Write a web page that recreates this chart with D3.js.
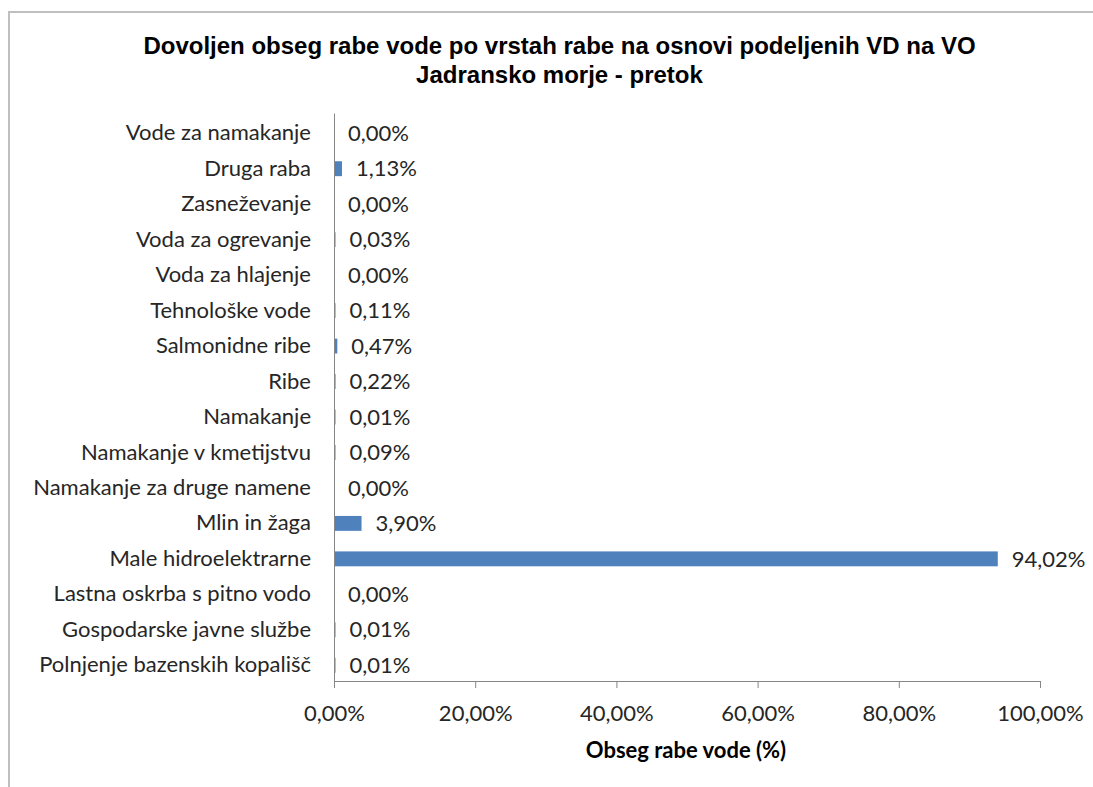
<!DOCTYPE html>
<html><head><meta charset="utf-8">
<script src="https://cdn.jsdelivr.net/npm/d3@7"></script>
<style>
html,body{margin:0;padding:0;background:#fff;}
svg{display:block;}
</style></head>
<body>
<svg id="chart" width="1093" height="787"></svg>
<script>
const categories = [
  "Vode za namakanje",
  "Druga raba",
  "Zasneževanje",
  "Voda za ogrevanje",
  "Voda za hlajenje",
  "Tehnološke vode",
  "Salmonidne ribe",
  "Ribe",
  "Namakanje",
  "Namakanje v kmetijstvu",
  "Namakanje za druge namene",
  "Mlin in žaga",
  "Male hidroelektrarne",
  "Lastna oskrba s pitno vodo",
  "Gospodarske javne službe",
  "Polnjenje bazenskih kopališč"
];
const values = [0.00, 1.13, 0.00, 0.03, 0.00, 0.11, 0.47, 0.22, 0.01, 0.09, 0.00, 3.90, 94.02, 0.00, 0.01, 0.01];
const xTicks = [0, 20, 40, 60, 80, 100];
const titleLines = ["Dovoljen obseg rabe vode po vrstah rabe na osnovi podeljenih VD na VO", "Jadransko morje - pretok"];
const axisTitle = "Obseg rabe vode (%)";

const fmt = v => v.toFixed(2).replace(".", ",") + "%";

const svg = d3.select("#chart");
const pLeft = 334, pRight = 1040, pTop = 113.5, pBottom = 681;
const FONT = "Lato, sans-serif";
const FS = 22;

// outer border
svg.append("rect").attr("x", 9).attr("y", 12).attr("width", 1100).attr("height", 800)
  .attr("fill", "none").attr("stroke", "#bfbfbf").attr("stroke-width", 2);

const x = d3.scaleLinear().domain([0, 100]).range([pLeft, pRight]);
const y = d3.scaleBand().domain(categories).range([pTop + 2, pBottom + 2]).paddingInner(0.58).paddingOuter(0.29);

// title
svg.append("g").selectAll("text").data(titleLines).join("text")
  .attr("x", 559.5).attr("y", (d, i) => 54 + i * 29)
  .attr("text-anchor", "middle")
  .attr("font-family", "Liberation Sans, Arial, sans-serif")
  .attr("font-weight", "bold").attr("font-size", 24).attr("fill", "#000")
  .text(d => d);

// bars
svg.append("g").selectAll("rect").data(values).join("rect")
  .attr("x", x(0))
  .attr("y", (d, i) => y(categories[i]))
  .attr("height", y.bandwidth())
  .attr("width", d => d > 0 ? Math.max(x(d) - x(0), 1.5) : 0)
  .attr("fill", "#4f81bd");

// data labels
svg.append("g").selectAll("text").data(values).join("text")
  .attr("x", d => (d > 0 ? Math.max(x(d), x(0) + 1.5) : x(0)) + 14)
  .attr("y", (d, i) => y(categories[i]) + y.bandwidth() / 2)
  .attr("dy", "0.35em")
  .attr("font-family", FONT).attr("font-size", FS).attr("fill", "#262626")
  .text(d => fmt(d));

// y axis
const yAxis = d3.axisLeft(y).tickSize(0).tickPadding(23);
const gy = svg.append("g").attr("transform", `translate(${pLeft},0)`).call(yAxis);
gy.select(".domain").attr("d", `M0.5,${pTop}V${pBottom}`).attr("stroke", "#868686").attr("stroke-width", 1);
gy.selectAll("text").attr("font-family", FONT).attr("font-size", FS).attr("fill", "#262626");

// x axis
const xAxis = d3.axisBottom(x).tickValues(xTicks).tickSize(7).tickPadding(17).tickSizeOuter(0)
  .tickFormat(d => fmt(d));
const gx = svg.append("g").attr("transform", `translate(0,${pBottom})`).call(xAxis);
gx.select(".domain").attr("stroke", "#868686").attr("stroke-width", 1);
gx.selectAll(".tick line").attr("stroke", "#868686");
gx.selectAll("text").attr("font-family", FONT).attr("font-size", FS).attr("fill", "#262626");

// axis title
svg.append("text").attr("x", 686).attr("y", 758).attr("text-anchor", "middle")
  .attr("font-family", FONT).attr("font-weight", "bold").attr("font-size", 22).attr("fill", "#000")
  .text(axisTitle);
</script>
</body></html>
